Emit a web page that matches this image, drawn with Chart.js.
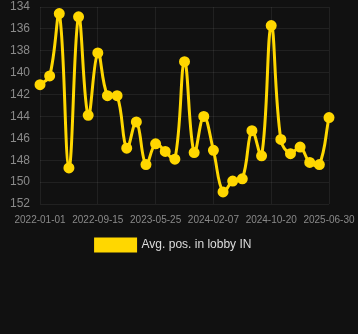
<!DOCTYPE html>
<html>
<head>
<meta charset="utf-8">
<script src="https://cdn.jsdelivr.net/npm/chart.js@4/dist/chart.umd.min.js"></script>
<style>
html,body{margin:0;padding:0;background:#111111;}
#wrap{width:358px;height:261px;position:relative;}
</style>
</head>
<body>
<div id="wrap"><canvas id="c"></canvas></div>
<script>
const categories = [
 "2022-01-01","2022-02-12","2022-03-26","2022-05-08","2022-06-19","2022-08-02",
 "2022-09-15","2022-10-27","2022-12-08","2023-01-20","2023-03-02","2023-04-13",
 "2023-05-25","2023-07-08","2023-08-20","2023-10-02","2023-11-13","2023-12-26",
 "2024-02-07","2024-03-21","2024-05-03","2024-06-15","2024-07-27","2024-09-08",
 "2024-10-20","2024-12-01","2025-01-12","2025-02-24","2025-04-07","2025-05-19",
 "2025-06-30"
];
const avgPos = [
 141.1,140.3,134.6,148.7,134.9,143.9,
 138.2,142.1,142.1,146.9,144.5,148.4,
 146.5,147.2,147.9,139.0,147.3,144.0,
 147.1,150.9,149.9,149.7,145.3,147.6,
 135.7,146.1,147.4,146.8,148.2,148.4,
 144.1
];
const yTicks = [134,136,138,140,142,144,146,148,150,152];

Chart.defaults.font.family = "'Liberation Sans', Arial, sans-serif";
new Chart(document.getElementById('c'), {
  type: 'line',
  data: {
    labels: categories,
    datasets: [{
      label: 'Avg. pos. in lobby IN',
      data: avgPos,
      borderColor: '#FFD700',
      backgroundColor: '#FFD700',
      borderWidth: 3,
      pointRadius: 4,
      pointBackgroundColor: '#FFD700',
      pointBorderColor: '#FFD700',
      tension: 0.4,
      fill: false
    }]
  },
  options: {
    responsive: true,
    maintainAspectRatio: false,
    animation: false,
    layout: { padding: { left: 0, right: 11, top: 6, bottom: 0 } },
    plugins: {
      legend: {
        position: 'bottom',
        labels: { color: '#dddddd', font: { size: 12 }, boxWidth: 40, boxHeight: 12, padding: 3 }
      },
      tooltip: { enabled: false }
    },
    scales: {
      x: {
        grid: { color: 'rgba(255,255,255,0.07)', drawTicks: false },
        border: { display: false },
        afterFit: function(s) { s.paddingLeft = 0; s.paddingRight = 29; },
        ticks: {
          color: '#8a8a8a', font: { size: 10 }, maxRotation: 0, autoSkip: false, padding: 10,
          callback: function(v, i) { return i % 6 === 0 ? categories[i] : null; }
        }
      },
      y: {
        reverse: true,
        min: 134, max: 152,
        afterBuildTicks: function(ax) { ax.ticks = yTicks.map(v => ({ value: v })); },
        afterFit: function(s) { s.paddingTop = 0; s.paddingBottom = 0; },
        grid: { color: 'rgba(255,255,255,0.07)', drawTicks: false },
        border: { display: false },
        ticks: { color: '#8a8a8a', font: { size: 12 }, padding: 10 }
      }
    }
  }
});
</script>
</body>
</html>
